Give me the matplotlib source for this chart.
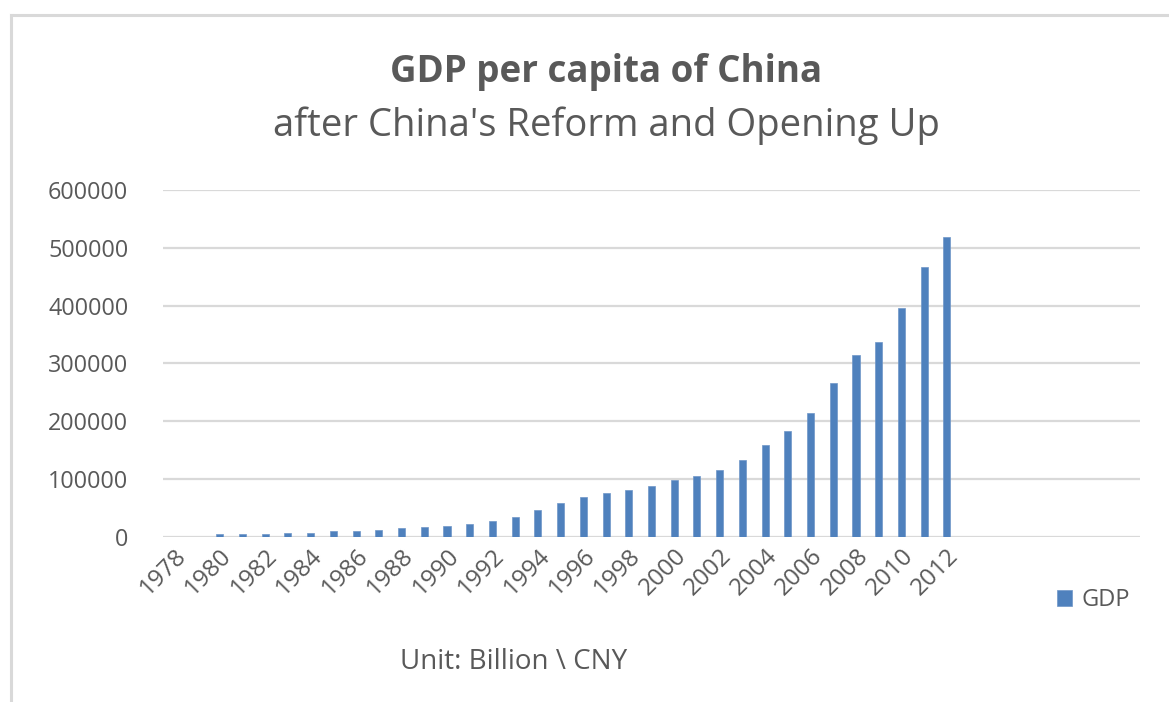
import matplotlib.pyplot as plt
from matplotlib.lines import Line2D

plt.rcParams["font.family"] = ["Open Sans", "DejaVu Sans"]

# category axis: 1978..2020, labels only on even years up to 2012
years = list(range(1978, 2021))
label_years = list(range(1978, 2013, 2))

# GDP, 100 million CNY (bars start in 1980)
gdp_years = list(range(1980, 2013))
gdp = [
    4500, 4900, 5300, 6000, 7200, 9000, 10200, 12000, 15000, 16900,
    18500, 21600, 26600, 34600, 46800, 58100, 67900, 76400, 81600, 87400,
    97700, 105700, 116100, 132200, 159200, 182800, 214900, 265500, 313800, 337400,
    396500, 467000, 519000,
]

BLUE = "#4F81BD"
GRID = "#D9D9D9"
TEXT = "#595959"

W, H = 1169, 702
fig = plt.figure(figsize=(W / 100, H / 100), dpi=100)

# chart frame (only top and left edges show)
fig.add_artist(Line2D([11 / W, 1.0], [1 - 15 / H, 1 - 15 / H], color=GRID, lw=2.2))
fig.add_artist(Line2D([11 / W, 11 / W], [0.0, 1 - 15 / H], color=GRID, lw=2.2))

ax = fig.add_axes([163 / W, 1 - 536.7 / H, (1140 - 163) / W, (536.7 - 190) / H])

pos = [years.index(y) for y in gdp_years]
ax.bar(pos, gdp, width=0.31, color=BLUE, edgecolor="#6E96C8", linewidth=0.5, zorder=3, label="GDP")

ax.set_xlim(-0.5, len(years) - 0.5)
ax.set_ylim(0, 600000)
ax.set_yticks(range(0, 600001, 100000))
ax.set_yticklabels([str(v) for v in range(0, 600001, 100000)])
ax.yaxis.grid(True, color=GRID, lw=1.6, zorder=0)
ax.tick_params(axis="y", length=0, pad=25, labelsize=16.8, labelcolor=TEXT)

ax.set_xticks([years.index(y) for y in label_years])
ax.set_xticklabels([str(y) for y in label_years], rotation=45, ha="right",
                   va="top", rotation_mode="anchor")
ax.tick_params(axis="x", length=0, pad=5, labelsize=17.5, labelcolor=TEXT)

for s in ax.spines.values():
    s.set_visible(False)

fig.text(606 / W, 1 - 72 / H, "GDP per capita of China", ha="center", va="center",
         fontsize=26.5, fontweight="bold", color=TEXT)
fig.text(606 / W, 1 - 126 / H, "after China's Reform and Opening Up", ha="center",
         va="center", fontsize=27.5, color=TEXT)
fig.text(400 / W, 1 - 662 / H, "Unit: Billion \\ CNY", ha="left", va="center",
         fontsize=20, color=TEXT)

fig.legend(loc="center left", bbox_to_anchor=(1057 / W, 1 - 600 / H), frameon=False,
           fontsize=17, labelcolor=TEXT, handlelength=0.65, handleheight=0.65,
           handletextpad=0.4, borderaxespad=0, borderpad=0)

fig.savefig("out.png", dpi=100, facecolor="white")
